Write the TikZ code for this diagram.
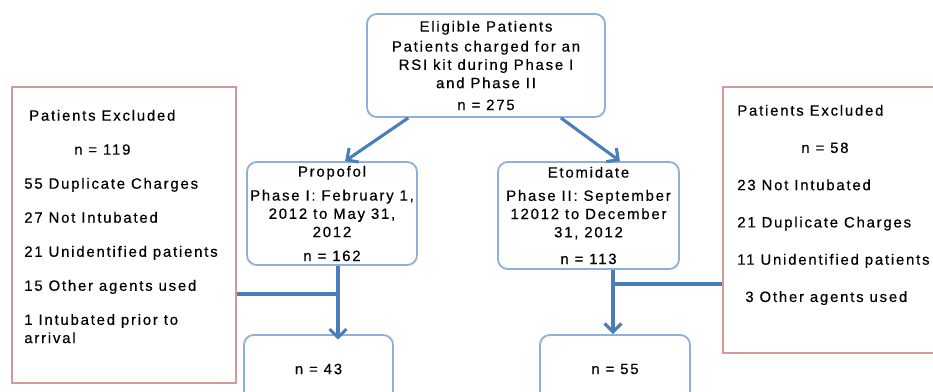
\documentclass[tikz,border=0pt]{standalone}
\usepackage{fontspec}
\setmainfont{Liberation Sans}[LetterSpace=12,FakeBold=0.4]
\usetikzlibrary{calc,arrows.meta}
\definecolor{boxblue}{HTML}{8EB0DA}
\definecolor{linkblue}{HTML}{4A7EBB}
\definecolor{exclred}{HTML}{D49A9A}

\begin{document}
\begin{tikzpicture}[x=0.025cm,y=-0.025cm,
    font=\fontsize{10.6}{13}\selectfont,
    >={Straight Barb[length=6pt,width=12pt]},
    phasebox/.style={rectangle,rounded corners=7pt,draw=boxblue,line width=1.3pt,
                     fill=white,align=center,inner sep=0pt},
    exclbox/.style={rectangle,draw=exclred,line width=1.3pt,inner sep=0pt},
    link/.style={draw=linkblue,line width=2.2pt}]
  \useasboundingbox (0,0) rectangle (933,391);
  % phase boxes
  \node (elig) at (486,65.5) [phasebox,minimum width=5.95cm,minimum height=2.575cm]
        {Eligible Patients\\[1.2pt]Patients charged for an\\RSI kit during Phase I\\
         and Phase II\\[2.6pt]n = 275};
  \node (prop) at (332,213.5) [phasebox,minimum width=4.25cm,minimum height=2.575cm]
        {Propofol\\[4pt]Phase I: February 1,\\2012 to May 31,\\2012\\[4pt]n = 162};
  \node (etom) at (588.5,215.5) [phasebox,minimum width=4.525cm,minimum height=2.675cm]
        {Etomidate\\[3.5pt]Phase II: September\\12012 to December\\31, 2012\\[6pt]n = 113};
  \node (n43) at (318.5,369) [phasebox,minimum width=3.725cm,minimum height=1.7cm] {n = 43};
  \node (n55) at (615,369) [phasebox,minimum width=3.75cm,minimum height=1.7cm] {n = 55};
  % excluded boxes
  \node (exclL) at (124,235) [exclbox,minimum width=5.6cm,minimum height=7.4cm] {};
  \node (exclLtext) at ($(exclL.north west)+(13,23.5)$) [anchor=north west,align=left,inner sep=0pt]
        {\hspace{3.5pt}Patients Excluded\\[11.2pt]
         \hspace{35.5pt}n = 119\\[11.2pt]
         55 Duplicate Charges\\[11.2pt]
         27 Not Intubated\\[11.2pt]
         21 Unidentified patients\\[11.2pt]
         15 Other agents used\\[11.2pt]
         1 Intubated prior to\\arrival};
  \node (exclR) at (834,220) [exclbox,minimum width=5.55cm,minimum height=6.65cm] {};
  \node (exclRtext) at ($(exclR.north west)+(15,18.5)$) [anchor=north west,align=left,inner sep=0pt]
        {Patients Excluded\\[13.5pt]
         \hspace{45.5pt}n = 58\\[13.5pt]
         23 Not Intubated\\[13.5pt]
         21 Duplicate Charges\\[13.5pt]
         11 Unidentified patients\\[13.5pt]
         \hspace{5.7pt}3 Other agents used};
  % connectors
  \coordinate (jl) at (338,294);
  \coordinate (jr) at (613,284);
  \draw[link,->] (elig.214) -- (prop.76);
  \draw[link,->] (elig.325) -- (etom.60);
  \draw[link,->,shorten >=-4pt] (prop.south -| jl) -- (n43.north -| jl);
  \draw[link] (exclL.east |- jl) -- (jl);
  \draw[link,->] (etom.south -| jr) -- (n55.north -| jr);
  \draw[link] (jr) -- (exclR.west |- jr);
\end{tikzpicture}
\end{document}
